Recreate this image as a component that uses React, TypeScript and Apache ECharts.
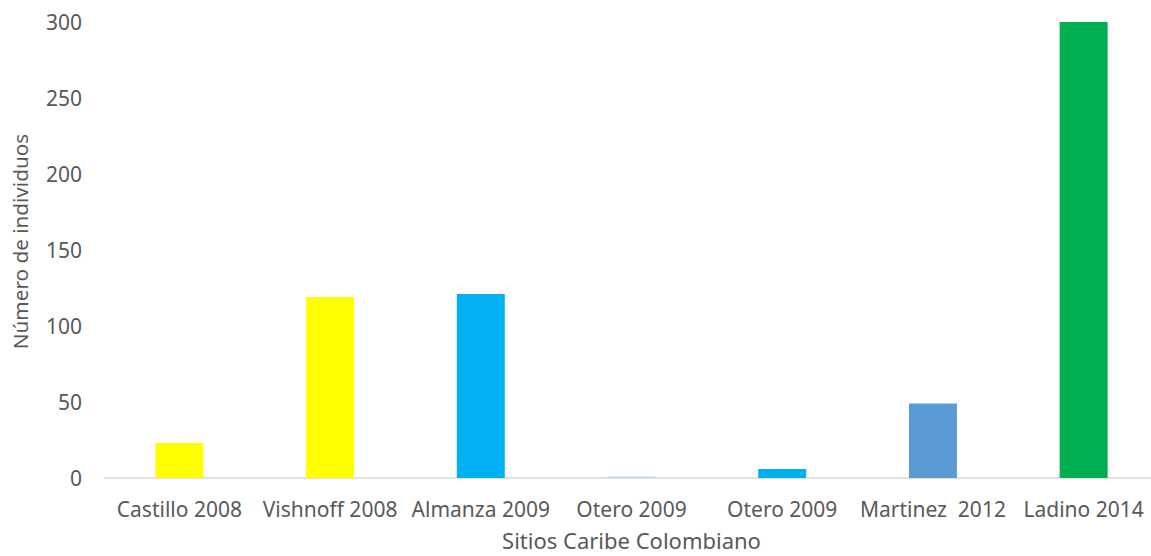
import React, { useEffect, useRef } from "react";
import * as echarts from "echarts";

const categories = [
  "Castillo 2008",
  "Vishnoff 2008",
  "Almanza 2009",
  "Otero 2009",
  "Otero 2009 ",
  "Martinez  2012",
  "Ladino 2014",
];
const values = [23, 119, 121, 1, 6, 49, 301];
const colors = ["#FFFF00", "#FFFF00", "#00B0F0", "#BDD7EE", "#00B0F0", "#5B9BD5", "#00B050"];
const yTicks = [0, 50, 100, 150, 200, 250, 300];

const FONT = "Noto Sans";
const TEXT = "#595959";

export default function App() {
  const ref = useRef<HTMLDivElement>(null);
  useEffect(() => {
    const chart = echarts.init(ref.current!, null, { renderer: "svg" });
    chart.setOption({
      animation: false,
      grid: { left: 104, top: 22, bottom: 78, width: 1055, containLabel: false, outerBoundsMode: "none" },
      xAxis: {
        type: "category",
        data: categories,
        name: "Sitios Caribe Colombiano",
        nameLocation: "middle",
        nameGap: 51,
        nameTextStyle: { color: TEXT, fontFamily: FONT, fontSize: 22, lineHeight: 22 },
        axisLine: { lineStyle: { color: "#D9D9D9", width: 1.5 } },
        axisTick: { show: false },
        axisLabel: {
          color: TEXT,
          fontFamily: FONT,
          fontSize: 21,
          margin: 20,
          interval: 0,
          formatter: (v: string) => v.trimEnd(),
        },
      },
      yAxis: {
        type: "value",
        min: yTicks[0],
        max: yTicks[yTicks.length - 1],
        interval: 50,
        name: "Número de individuos",
        nameLocation: "middle",
        nameGap: 74,
        nameTextStyle: { color: TEXT, fontFamily: FONT, fontSize: 20.7, padding: [0, 0, 0, 17] },
        splitLine: { show: false },
        axisLine: { show: false },
        axisTick: { show: false },
        axisLabel: { color: TEXT, fontFamily: FONT, fontSize: 21, margin: 22 },
      },
      series: [
        {
          type: "bar",
          data: values.map((v, i) => ({ value: v, itemStyle: { color: colors[i] } })),
          barWidth: 48,
        },
      ],
    });
    return () => chart.dispose();
  }, []);
  return <div ref={ref} style={{ width: 1151, height: 556, position: "absolute", left: 0, top: 0 }} />;
}
